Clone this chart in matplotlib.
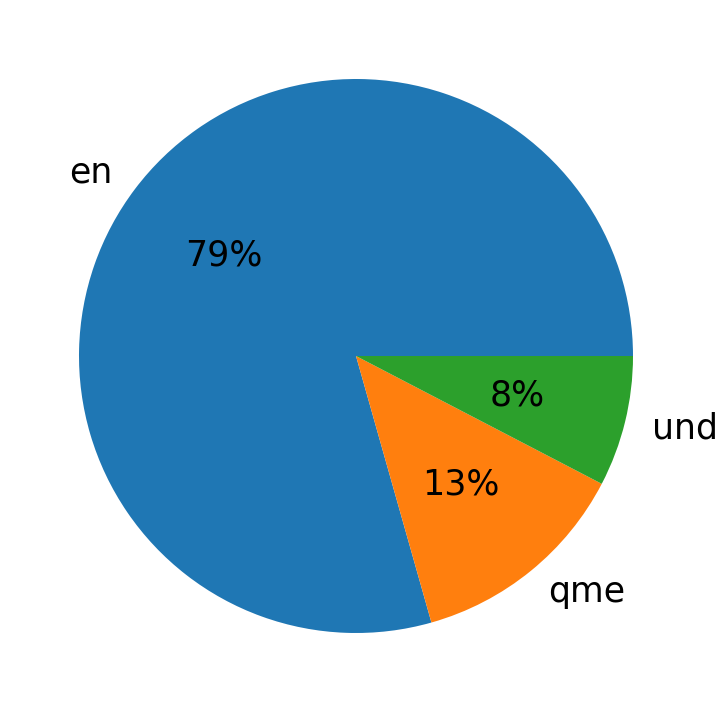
import matplotlib
matplotlib.use("Agg")
import matplotlib.pyplot as plt

# language counts
labels = ["en", "qme", "und"]
counts = [104, 17, 10]
colors = ["#1f77b4", "#ff7f0e", "#2ca02c"]

fig = plt.figure(figsize=(7.28, 7.13), dpi=100)
ax = fig.add_axes([9.75 / 728, 10.75 / 713, 692.5 / 728, 692.5 / 713])
ax.pie(counts, labels=labels, colors=colors, autopct="%1.0f%%",
       textprops={"fontsize": 25})
ax.set_aspect("equal")
fig.savefig("out.png", dpi=100)
